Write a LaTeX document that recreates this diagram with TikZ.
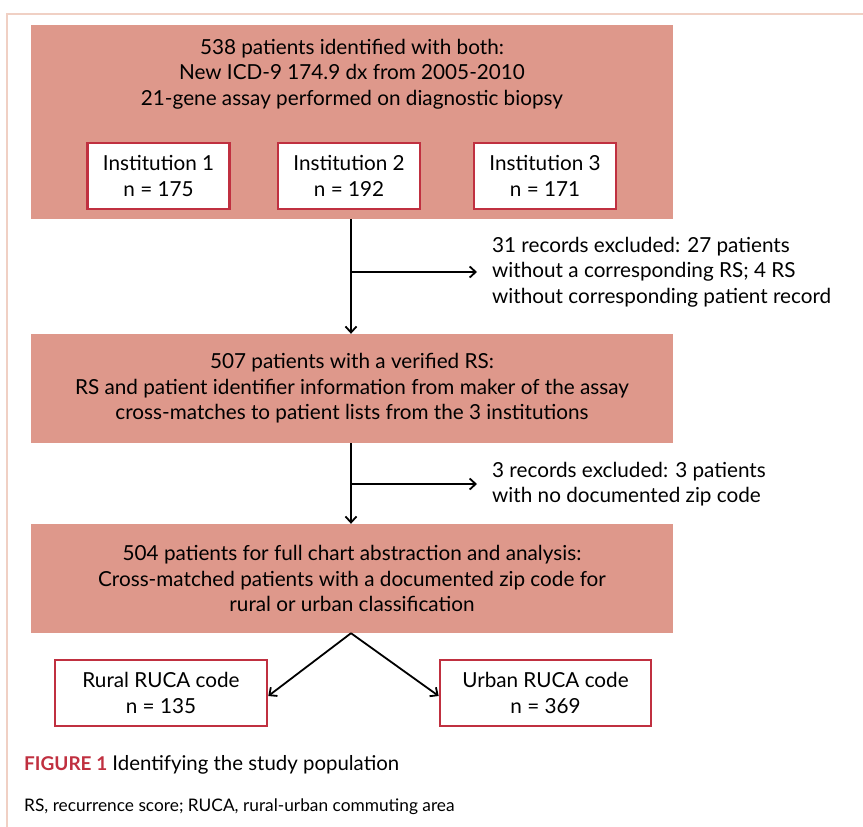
\documentclass[tikz,border=0pt]{standalone}
\usepackage{fontspec}
\setmainfont{Lato}
\usetikzlibrary{arrows.meta}
\definecolor{salmon}{RGB}{222,152,139}
\definecolor{boxred}{RGB}{192,48,64}
\definecolor{framepink}{RGB}{240,208,196}
\tikzset{
  txt/.style={font=\fontsize{20.7}{25.5}\selectfont},
  stage/.style={txt, fill=salmon, minimum width=642pt, minimum height=109pt, align=center, inner sep=0pt},
  countbox/.style={txt, draw=boxred, line width=2.6pt, fill=white, minimum width=142pt, minimum height=66pt, align=center, inner sep=0pt},
  exclnote/.style={txt, anchor=west, align=left, inner sep=0pt},
  flow/.style={->, line width=1.8pt},
  >={Straight Barb[length=6pt,width=11pt]}
}

\begin{document}
\begin{tikzpicture}[x=1pt,y=-1pt]
  \useasboundingbox (0,0) rectangle (863,827);
  % outer frame
  \draw[framepink, line width=2pt] (863,14) -- (7,14) -- (7,827);

  % top box with institutions
  \node[stage, minimum height=194pt] (identified) at (352,122) {};
  \node[txt, align=center, inner sep=0pt] (identtext) at (352,74)
    {538 patients identified with both:\\
     New ICD-9 174.9 dx from 2005-2010\\
     21-gene assay performed on diagnostic biopsy};
  \node[countbox] (inst1) at (158.5,176) {Institution 1\\n = 175};
  \node[countbox] (inst2) at (349,176) {Institution 2\\n = 192};
  \node[countbox] (inst3) at (545,176) {Institution 3\\n = 171};

  % second and third box
  \node[stage] (verified) at (352,388.5)
    {507 patients with a verified RS:\\
     RS and patient identifier information from maker of the assay\\
     cross-matches to patient lists from the 3 institutions};
  \node[stage] (final) at (352,578.5)
    {504 patients for full chart abstraction and analysis:\\
     Cross-matched patients with a documented zip code for\\
     rural or urban classification};

  % exclusions
  \node[exclnote] (excl1) at (492,272)
    {31 records excluded: 27 patients\\
     without a corresponding RS; 4 RS\\
     without corresponding patient record};
  \node[exclnote] (excl2) at (492,484)
    {3 records excluded: 3 patients\\
     with no documented zip code};

  % rural / urban
  \node[countbox, minimum width=212pt] (rural) at (161,693) {Rural RUCA code\\n = 135};
  \node[countbox, minimum width=211pt] (urban) at (545.5,693) {Urban RUCA code\\n = 369};

  % connectors
  \coordinate (split1) at (351,272);
  \coordinate (split2) at (351,484);
  \draw[flow] ([xshift=-1pt]identified.south) -- ([xshift=-1pt]verified.north);
  \draw[flow] (split1) -- ([xshift=-15pt]excl1.west);
  \draw[flow] ([xshift=-1pt]verified.south) -- ([xshift=-1pt]final.north);
  \draw[flow] (split2) -- ([xshift=-15pt]excl2.west);
  \draw[flow] ([xshift=-1pt]final.south) -- ([yshift=-3pt]rural.east);
  \draw[flow] ([xshift=-1pt]final.south) -- ([yshift=-3pt]urban.west);

  % caption
  \node[anchor=west, inner sep=0pt, font=\fontsize{20.4}{26}\selectfont] (caption) at (24,765)
    {{\color{boxred}\bfseries\fontsize{19}{26}\selectfont FIGURE 1} Identifying the study population};
  \node[anchor=west, inner sep=0pt, font=\fontsize{17.3}{20}\selectfont] (abbrev) at (24,807)
    {RS, recurrence score; RUCA, rural-urban commuting area};
\end{tikzpicture}
\end{document}
